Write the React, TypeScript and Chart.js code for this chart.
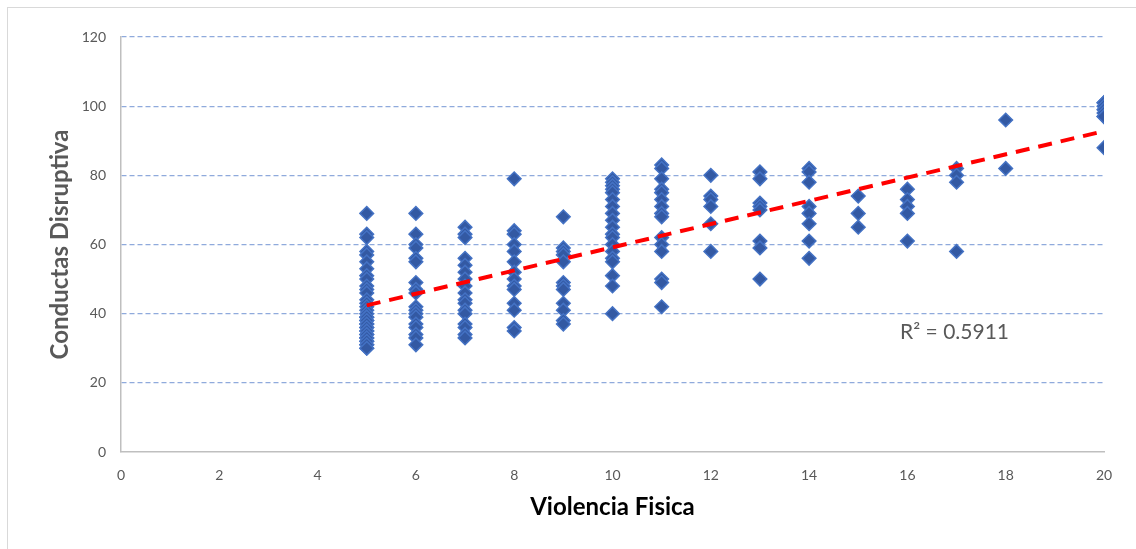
import { useEffect, useRef } from "react"
import { Chart, registerables } from "chart.js"

Chart.register(...registerables)

// Conductas Disruptiva por cada valor de Violencia Fisica (hay puntos superpuestos)
const vf05 = [
  69, 63, 62, 58, 57, 55, 53, 51, 50, 48, 47, 46, 44, 43, 42, 41, 40, 39, 38, 37, 36, 35, 34, 33, 32, 31, 30,
  39, 38, 37, 36, 35, 34, 33, 32, 31, 30,
]
const vf06 = [69, 63, 60, 59, 56, 55, 49, 47, 46, 42, 41, 40, 39, 37, 36, 34, 33, 31]
const vf07 = [65, 63, 62, 56, 54, 52, 50, 48, 46, 44, 43, 41, 40, 37, 36, 34, 33]
const vf08 = [79, 64, 63, 60, 58, 55, 52, 50, 48, 47, 43, 41, 36, 35]
const vf09 = [68, 59, 58, 57, 55, 49, 48, 47, 43, 41, 38, 37]
const vf10 = [79, 78, 77, 76, 75, 73, 71, 69, 67, 65, 63, 62, 60, 58, 56, 55, 51, 48, 40]
const vf11 = [83, 82, 79, 76, 75, 73, 71, 69, 68, 62, 60, 58, 50, 49, 42]
const vf12 = [80, 74, 73, 71, 66, 58]
const vf13 = [81, 79, 72, 71, 70, 61, 59, 50]
const vf14 = [82, 81, 78, 71, 69, 66, 61, 56]
const vf15 = [74, 69, 65]
const vf16 = [76, 73, 71, 69, 61]
const vf17 = [82, 80, 78, 58]
const vf18 = [96, 82]
const vf20 = [101, 101, 100, 99, 98, 97, 97, 88]

const grupos: [number, number[]][] = [
  [5, vf05], [6, vf06], [7, vf07], [8, vf08], [9, vf09], [10, vf10], [11, vf11],
  [12, vf12], [13, vf13], [14, vf14], [15, vf15], [16, vf16], [17, vf17], [18, vf18], [20, vf20],
]

const r2Texto = "R² = 0.5911"
const FONT = "Lato, 'Open Sans', sans-serif"

const puntos = grupos.flatMap(([x, ys]) => ys.map((y) => ({ x, y })))

// Recta de tendencia lineal (mínimos cuadrados)
function tendencia() {
  const n = puntos.length
  const mx = puntos.reduce((s, p) => s + p.x, 0) / n
  const my = puntos.reduce((s, p) => s + p.y, 0) / n
  let sxy = 0
  let sxx = 0
  puntos.forEach((p) => {
    sxy += (p.x - mx) * (p.y - my)
    sxx += (p.x - mx) * (p.x - mx)
  })
  const b = sxy / sxx
  const a = my - b * mx
  const xs = puntos.map((p) => p.x)
  const x0 = Math.min(...xs)
  const x1 = Math.max(...xs)
  return [
    { x: x0, y: a + b * x0 },
    { x: x1, y: a + b * x1 },
  ]
}

const r2Label = {
  id: "r2Label",
  afterDatasetsDraw(chart: Chart) {
    const { ctx, scales } = chart
    const px = scales.x.getPixelForValue(15.85)
    const py = scales.y.getPixelForValue(34.5)
    ctx.save()
    ctx.font = `21px ${FONT}`
    ctx.fillStyle = "#595959"
    ctx.textAlign = "left"
    ctx.textBaseline = "middle"
    ctx.fillText(r2Texto, px, py)
    ctx.restore()
  },
}

export default function App() {
  const chartRef = useRef<HTMLCanvasElement>(null)
  const chartInstance = useRef<Chart | null>(null)

  useEffect(() => {
    if (!chartRef.current) return
    if (chartInstance.current) chartInstance.current.destroy()
    const ctx = chartRef.current.getContext("2d")
    if (!ctx) return

    chartInstance.current = new Chart(ctx, {
      type: "scatter",
      data: {
        datasets: [
          {
            label: "Tendencia",
            data: tendencia(),
            showLine: true,
            borderColor: "#FF0000",
            borderWidth: 4,
            borderDash: [14, 9],
            pointRadius: 0,
            order: 0,
          },
          {
            label: "Conductas Disruptiva",
            data: puntos,
            pointStyle: "rectRot",
            pointRadius: 6.8,
            backgroundColor: "#3359A3",
            borderColor: "#4472C4",
            borderWidth: 1.5,
            order: 1,
          },
        ],
      },
      options: {
        responsive: true,
        maintainAspectRatio: false,
        animation: false,
        layout: { padding: { left: 46, top: 37, right: 32, bottom: 20 } },
        scales: {
          x: {
            type: "linear",
            min: 0,
            max: 20,
            ticks: { stepSize: 2, color: "#595959", font: { family: FONT, size: 14 }, padding: 15 },
            grid: { display: false, drawTicks: false },
            border: { display: true, color: "#BFBFBF", width: 1.5 },
            title: {
              display: true,
              text: "Violencia Fisica",
              color: "#000000",
              font: { family: FONT, size: 24, weight: "bold" },
              padding: { top: 0, bottom: 7 },
            },
            afterFit: (scale) => {
              scale.height = 77
            },
          },
          y: {
            min: 0,
            max: 120,
            ticks: { stepSize: 20, color: "#595959", font: { family: FONT, size: 14 }, padding: 15 },
            grid: {
              color: (c) => (c.tick && c.tick.value === 0 ? "rgba(0,0,0,0)" : "#8FAADC"),
              lineWidth: 1.2,
              drawTicks: false,
            },
            border: { display: true, color: "#BFBFBF", width: 1.5, dash: [5, 3] },
            title: {
              display: true,
              text: "Conductas Disruptiva",
              color: "#595959",
              font: { family: FONT, size: 24, weight: "bold" },
              padding: { top: 0, bottom: 0 },
            },
            afterFit: (scale) => {
              scale.width = 75
            },
          },
        },
        plugins: {
          legend: { display: false },
          tooltip: { enabled: false },
        },
      },
      plugins: [r2Label],
    })

    return () => {
      if (chartInstance.current) {
        chartInstance.current.destroy()
        chartInstance.current = null
      }
    }
  }, [])

  return (
    <div style={{ position: "absolute", left: 0, top: 0, width: 1136, height: 549, background: "#fff", overflow: "hidden" }}>
      <div
        style={{
          position: "absolute",
          left: 7,
          top: 7,
          width: 1200,
          height: 600,
          borderLeft: "1px solid #D9D9D9",
          borderTop: "1px solid #D9D9D9",
        }}
      />
      <div style={{ position: "absolute", left: 0, top: 0, width: 1136, height: 549 }}>
        <canvas ref={chartRef} />
      </div>
    </div>
  )
}
